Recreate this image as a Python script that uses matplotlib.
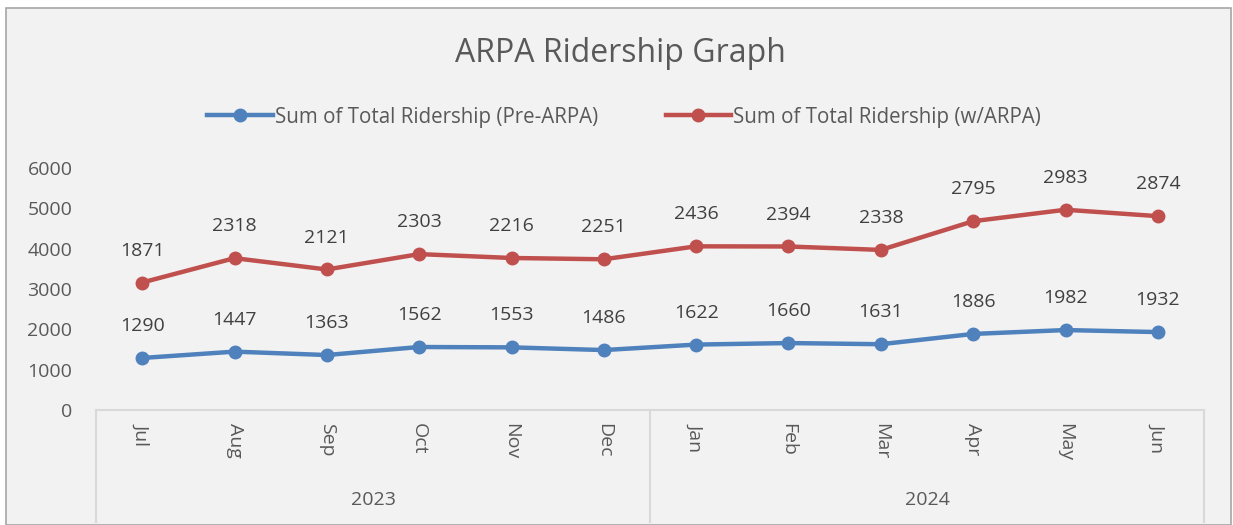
import numpy as np
import matplotlib.pyplot as plt
from matplotlib.lines import Line2D

plt.rcParams['font.family'] = ['Open Sans', 'DejaVu Sans']

months = ['Jul', 'Aug', 'Sep', 'Oct', 'Nov', 'Dec', 'Jan', 'Feb', 'Mar', 'Apr', 'May', 'Jun']
years = ['2023', '2024']
pre_arpa = [1290, 1447, 1363, 1562, 1553, 1486, 1622, 1660, 1631, 1886, 1982, 1932]
w_arpa = [1871, 2318, 2121, 2303, 2216, 2251, 2436, 2394, 2338, 2795, 2983, 2874]

blue = '#4f81bd'
red = '#c0504d'
txt = '#404040'
W, H = 1233, 525
fs = 14

fig = plt.figure(figsize=(W / 100, H / 100), dpi=100, facecolor='white')
# chart area background with border
bg = plt.Rectangle((6 / W, 0), 1225 / W, 1 - 8 / H, transform=fig.transFigure,
                   facecolor='#f2f2f2', edgecolor='#a6a6a6', lw=1.2, zorder=-10)
fig.patches.append(bg)

ax = fig.add_axes([96 / W, (H - 410) / H, (1204 - 96) / W, (410 - 168) / H])
ax.set_facecolor('none')
ax.set_zorder(2)

x = np.arange(len(months))
stacked = np.array(pre_arpa) + np.array(w_arpa)

l1, = ax.plot(x, pre_arpa, color=blue, lw=3.2, marker='o', ms=9, clip_on=False, zorder=3)
l2, = ax.plot(x, stacked, color=red, lw=3.2, marker='o', ms=9, clip_on=False, zorder=3)

for xi, yi, v in zip(x, pre_arpa, pre_arpa):
    ax.annotate(str(v), (xi, yi), xytext=(0, 23), textcoords='offset points',
                ha='center', va='center', fontsize=fs, color=txt)
for xi, yi, v in zip(x, stacked, w_arpa):
    ax.annotate(str(v), (xi, yi), xytext=(0, 23), textcoords='offset points',
                ha='center', va='center', fontsize=fs, color=txt)

ax.set_xlim(-0.5, len(months) - 0.5)
ax.set_ylim(0, 6000)
ax.set_yticks(range(0, 6001, 1000))
ax.tick_params(axis='y', length=0, pad=17, labelsize=fs, labelcolor='#595959')
ax.set_xticks([])
for s in ['top', 'right', 'left']:
    ax.spines[s].set_visible(False)
ax.spines['bottom'].set_color('#d9d9d9')
ax.spines['bottom'].set_linewidth(1.5)

# grouped category axis
trans = ax.get_xaxis_transform()
for xi, m in zip(x, months):
    ax.text(xi, -13 / 242, m, transform=trans, rotation=-90, ha='center', va='top',
            fontsize=fs, color='#595959')
for i, yr in enumerate(years):
    ax.text(i * 6 + 2.5, -90 / 242, yr, transform=trans, ha='center', va='center',
            fontsize=fs, color='#595959')
for xb in [-0.5, 5.5, 11.5]:
    ax.add_line(Line2D([xb, xb], [0, -112 / 242], transform=trans, color='#d9d9d9',
                       lw=1.5, clip_on=False))

fig.text(620 / W, 1 - 53 / H, 'ARPA Ridership Graph', ha='center', va='center',
         fontsize=23, color='#595959')
fig.legend([l1, l2], ['Sum of Total Ridership (Pre-ARPA)', 'Sum of Total Ridership (w/ARPA)'],
           loc='center', bbox_to_anchor=(624 / W, 1 - 117 / H), ncol=2, frameon=False,
           fontsize=14.8, handlelength=3.2, handletextpad=0.1, columnspacing=3.3,
           labelcolor='#595959')

fig.savefig('out.png', dpi=100, facecolor='white')
